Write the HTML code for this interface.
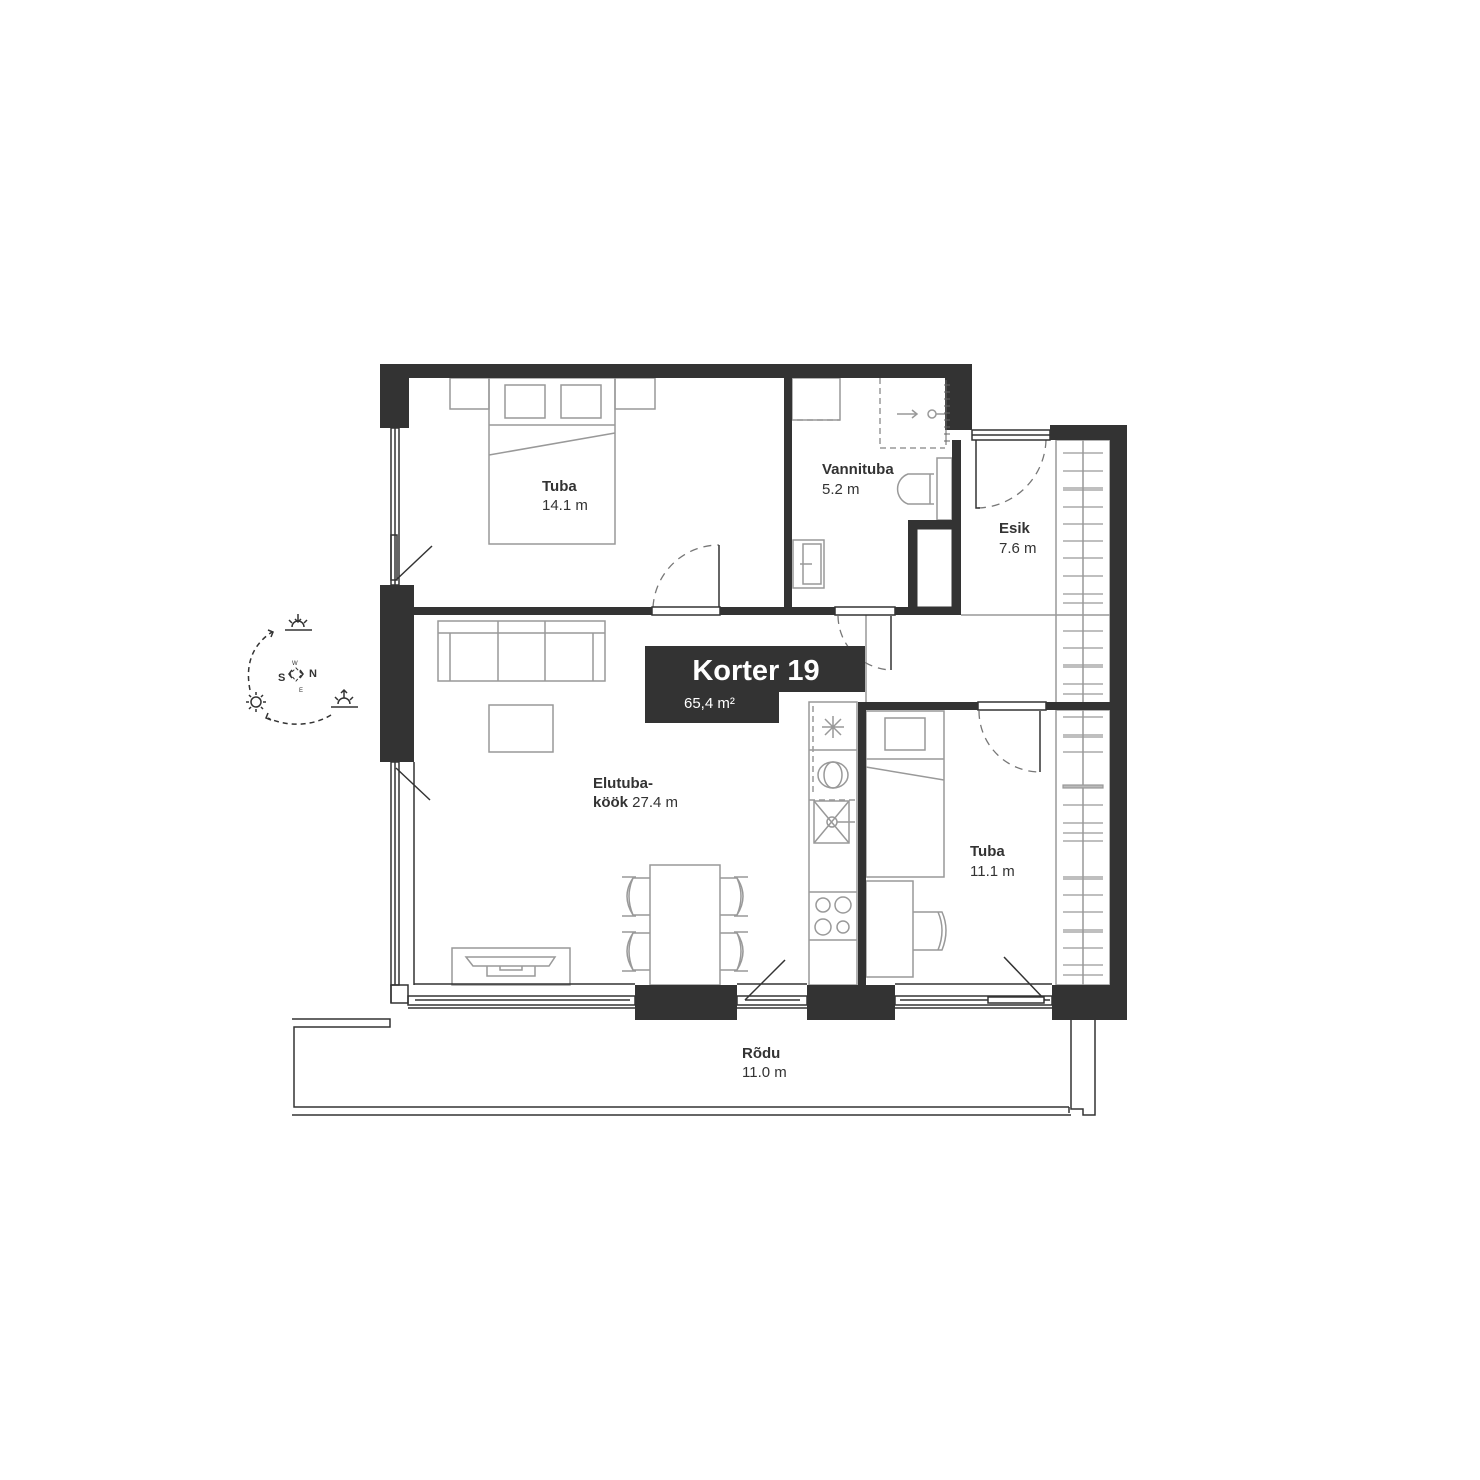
<!DOCTYPE html>
<html><head><meta charset="utf-8"><style>
html,body{margin:0;padding:0;background:#fff;}
svg{display:block;}
text{font-family:"Liberation Sans",sans-serif;fill:#333;}
</style></head><body>
<svg width="1480" height="1480" viewBox="0 0 1480 1480" xmlns="http://www.w3.org/2000/svg">
<rect width="1480" height="1480" fill="#fff"/>

<!-- Furniture (grey) -->
<g fill="none" stroke="#999" stroke-width="1.5">
  <!-- bedroom 1 -->
  <rect x="450" y="378" width="39" height="31"/>
  <rect x="615" y="378" width="40" height="31"/>
  <rect x="489" y="378" width="126" height="166"/>
  <line x1="489" y1="425" x2="615" y2="425"/>
  <rect x="505" y="385" width="40" height="33"/>
  <rect x="561" y="385" width="40" height="33"/>
  <line x1="489" y1="455" x2="615" y2="433"/>
  <!-- bathroom -->
  <rect x="792" y="378" width="48" height="42"/>
  <path d="M880 378 V448 H945" stroke-dasharray="6 4"/>
  <path d="M797 420 H840" stroke-dasharray="6 4"/>
  <path d="M897 414 H916 M912 410 L917 414 L912 418"/>
  <circle cx="932" cy="414" r="4"/>
  <line x1="936" y1="414" x2="945" y2="414"/>
  <rect x="937" y="458" width="15" height="62"/>
  <path d="M934 474 H908 A16 16 0 0 0 908 504 H934"/>
  <line x1="930" y1="474" x2="930" y2="504"/>
  <rect x="793" y="540" width="31" height="48"/>
  <rect x="803" y="544" width="18" height="40"/>
  <line x1="800" y1="564" x2="812" y2="564"/>
  <!-- living -->
  <rect x="438" y="621" width="167" height="60"/>
  <line x1="438" y1="633" x2="605" y2="633"/>
  <line x1="450" y1="633" x2="450" y2="681"/>
  <line x1="593" y1="633" x2="593" y2="681"/>
  <line x1="498" y1="621" x2="498" y2="681"/>
  <line x1="545" y1="621" x2="545" y2="681"/>
  <rect x="489" y="705" width="64" height="47"/>
  <rect x="650" y="865" width="70" height="120"/>
  <rect x="452" y="948" width="118" height="37"/>
  <path d="M466 957 H555 L549 966 H473 Z"/>
  <path d="M487 966 V976 H535 V966 M500 966 V970 H522 V966"/>
  <!-- chairs -->
  <g id="ch">
    <path d="M650 878 H633 Q621 896 633 915 H650"/>
    <path d="M633 878 Q625 896 633 915"/>
    <line x1="622" y1="877" x2="636" y2="877"/><line x1="622" y1="916" x2="636" y2="916"/>
  </g>
  <path d="M650 933 H633 Q621 951 633 970 H650"/>
  <path d="M633 933 Q625 951 633 970"/>
  <line x1="622" y1="932" x2="636" y2="932"/><line x1="622" y1="971" x2="636" y2="971"/>
  <path d="M720 878 H737 Q749 896 737 915 H720"/>
  <path d="M737 878 Q745 896 737 915"/>
  <line x1="734" y1="877" x2="748" y2="877"/><line x1="734" y1="916" x2="748" y2="916"/>
  <path d="M720 933 H737 Q749 951 737 970 H720"/>
  <path d="M737 933 Q745 951 737 970"/>
  <line x1="734" y1="932" x2="748" y2="932"/><line x1="734" y1="971" x2="748" y2="971"/>
  <!-- kitchen -->
  <rect x="809" y="702" width="48" height="283"/>
  <line x1="809" y1="750" x2="857" y2="750"/>
  <path d="M809 800 H857" stroke-dasharray="6 4"/>
  <path d="M813 706 V796" stroke-dasharray="6 4"/>
  <path d="M833 716 V738 M822 727 H844 M825 719 L841 735 M841 719 L825 735"/>
  <ellipse cx="833" cy="775" rx="15" ry="13"/>
  <ellipse cx="833" cy="775" rx="9" ry="13"/>
  <rect x="814" y="801" width="35" height="42"/>
  <path d="M814 801 L849 843 M849 801 L814 843"/>
  <circle cx="832" cy="822" r="5"/>
  <line x1="837" y1="822" x2="855" y2="822"/>
  <line x1="809" y1="892" x2="857" y2="892"/>
  <line x1="809" y1="940" x2="857" y2="940"/>
  <circle cx="823" cy="905" r="7"/><circle cx="843" cy="905" r="8"/>
  <circle cx="823" cy="927" r="8"/><circle cx="843" cy="927" r="6"/>
  <!-- bedroom 2 -->
  <rect x="866" y="711" width="78" height="166"/>
  <rect x="885" y="718" width="40" height="32"/>
  <line x1="866" y1="759" x2="944" y2="759"/>
  <line x1="866" y1="767" x2="944" y2="780"/>
  <rect x="866" y="881" width="47" height="96"/>
  <path d="M913 912 H942 Q950 930 942 950 H913"/>
  <path d="M938 912 Q946 930 938 950"/>
  <!-- wardrobe -->
  <rect x="1056" y="440" width="54" height="545"/>
  <line x1="1083" y1="440" x2="1083" y2="985"/>
  <line x1="1056" y1="615" x2="1110" y2="615"/>
  <line x1="1056" y1="710" x2="1110" y2="710"/>
  <!-- hall lines -->
  <line x1="961" y1="615" x2="1056" y2="615"/>
  <line x1="866" y1="615" x2="866" y2="702"/>
</g>
<!-- wardrobe hangers -->
<g stroke="#999" stroke-width="1.2">
  <path d="M1063 453H1103M1063 471H1103M1063 488H1103M1063 490H1103M1063 507H1103M1063 524H1103M1063 541H1103M1063 558H1103M1063 576H1103M1063 594H1103M1063 603H1103M1063 631H1103M1063 648H1103M1063 665H1103M1063 667H1103M1063 684H1103M1063 694H1103"/>
  <path d="M1063 717H1103M1063 735H1103M1063 737H1103M1063 752H1103M1063 787H1103M1063 805H1103M1063 823H1103M1063 833H1103M1063 841H1103M1063 877H1103M1063 879H1103M1063 895H1103M1063 912H1103M1063 930H1103M1063 932H1103M1063 948H1103M1063 965H1103M1063 975H1103"/>
  <rect x="1063" y="785" width="40" height="3" fill="#bbb"/>
</g>

<!-- doors -->
<g fill="none" stroke="#777" stroke-width="1.3">
  <path d="M653 607 A66 66 0 0 1 719 545" stroke-dasharray="8 6"/>
  <path d="M838 616 A55 55 0 0 0 891 670" stroke-dasharray="8 6"/>
  <path d="M1046 440 A70 70 0 0 1 976 508" stroke-dasharray="8 6"/>
  <path d="M979 711 A61 61 0 0 0 1040 772" stroke-dasharray="8 6"/>
</g>
<g stroke="#333" stroke-width="1.5" fill="none">
  <line x1="719" y1="545" x2="719" y2="607"/>
  <line x1="891" y1="616" x2="891" y2="670"/>
  <path d="M976 440 V508 H980"/>
  <line x1="1040" y1="711" x2="1040" y2="772"/>
  <line x1="396" y1="580" x2="432" y2="546"/>
  <line x1="396" y1="768" x2="430" y2="800"/>
  <line x1="745" y1="1000" x2="785" y2="960"/>
  <line x1="1045" y1="1000" x2="1004" y2="957"/>
</g>

<!-- interior thin outlines -->
<g stroke="#333" stroke-width="1.5" fill="none">
  <line x1="414" y1="762" x2="414" y2="985"/>
  <line x1="414" y1="984" x2="635" y2="984"/>
  <line x1="737" y1="984" x2="807" y2="984"/>
  <line x1="895" y1="984" x2="1052" y2="984"/>
  <!-- windows left -->
  <rect x="391" y="428" width="8" height="157"/>
  <line x1="395" y1="428" x2="395" y2="585"/>
  <rect x="391" y="535" width="6" height="45"/>
  <rect x="391" y="762" width="8" height="223"/>
  <line x1="395" y1="762" x2="395" y2="985"/>
  <path d="M391 985 H408 V1003 H391 Z"/>
  <path d="M391 1003 V985"/>
  <!-- bottom windows -->
  <rect x="408" y="996" width="227" height="9"/>
  <line x1="415" y1="1000" x2="630" y2="1000"/>
  <rect x="737" y="996" width="70" height="9"/>
  <line x1="745" y1="1000" x2="800" y2="1000"/>
  <rect x="895" y="996" width="157" height="9"/>
  <line x1="900" y1="1000" x2="1050" y2="1000"/>
  <rect x="988" y="997" width="56" height="6" fill="#fff"/>
  <line x1="408" y1="1008" x2="635" y2="1008"/>
  <line x1="737" y1="1008" x2="807" y2="1008"/>
  <line x1="895" y1="1008" x2="1052" y2="1008"/>
  <!-- top window esik -->
  <rect x="972" y="430" width="78" height="10"/>
  <line x1="972" y1="435" x2="1050" y2="435"/>
  <!-- door thresholds -->
  <rect x="652" y="607" width="68" height="8" fill="#fff"/>
  <rect x="835" y="607" width="60" height="8" fill="#fff"/>
  <rect x="978" y="702" width="68" height="8" fill="#fff"/>
  <!-- balcony -->
  <path d="M292 1019 H390 V1027 H294 V1107 H1069"/>
  <line x1="292" y1="1115" x2="1071" y2="1115"/>
  <path d="M1071 1020 V1109 H1083 V1115 H1095 V1020"/>
  <line x1="1069" y1="1107" x2="1069" y2="1113"/>
</g>

<!-- walls (dark) -->
<g fill="#333">
  <rect x="380" y="364" width="592" height="14"/>
  <rect x="380" y="364" width="29" height="64"/>
  <rect x="945" y="364" width="27" height="66"/>
  <rect x="380" y="585" width="34" height="177"/>
  <rect x="409" y="607" width="243" height="8"/>
  <rect x="720" y="607" width="115" height="8"/>
  <rect x="895" y="607" width="66" height="8"/>
  <rect x="784" y="378" width="8" height="229"/>
  <rect x="908" y="520" width="53" height="9"/>
  <rect x="908" y="520" width="9" height="95"/>
  <rect x="952" y="440" width="9" height="175"/>
  <rect x="1050" y="425" width="77" height="15"/>
  <rect x="1110" y="425" width="17" height="595"/>
  <rect x="858" y="702" width="120" height="8"/>
  <rect x="1046" y="702" width="10" height="8"/>
  <rect x="1056" y="702" width="54" height="8" fill="#333"/>
  <rect x="858" y="702" width="8" height="283"/>
  <rect x="635" y="985" width="102" height="35"/>
  <rect x="807" y="985" width="88" height="35"/>
  <rect x="1052" y="985" width="75" height="35"/>
</g>
<rect x="917" y="529" width="35" height="78" fill="#fff" stroke="#333" stroke-width="1"/>
<g stroke="#666" stroke-width="1"><path d="M946 380V445"/><path d="M944 385H950M944 392H950M944 399H950M944 406H950M944 413H950M944 420H950M944 427H950M944 434H950M944 441H950"/></g>

<!-- Korter label -->
<rect x="645" y="646" width="220" height="46" fill="#333"/>
<rect x="645" y="692" width="134" height="31" fill="#333"/>
<text x="756" y="680" text-anchor="middle" font-size="29" font-weight="bold" style="fill:#fff">Korter 19</text>
<text x="684" y="708" font-size="15" style="fill:#fff">65,4 m²</text>

<!-- Room labels -->
<g font-size="15">
  <text x="542" y="491" font-weight="bold">Tuba</text>
  <text x="542" y="510">14.1 m</text>
  <text x="822" y="474" font-weight="bold">Vannituba</text>
  <text x="822" y="494">5.2 m</text>
  <text x="999" y="533" font-weight="bold">Esik</text>
  <text x="999" y="553">7.6 m</text>
  <text x="593" y="788" font-weight="bold">Elutuba-</text>
  <text x="593" y="807"><tspan font-weight="bold">köök</tspan> 27.4 m</text>
  <text x="970" y="856" font-weight="bold">Tuba</text>
  <text x="970" y="876">11.1 m</text>
  <text x="742" y="1058" font-weight="bold">Rõdu</text>
  <text x="742" y="1077">11.0 m</text>
</g>

<!-- Compass -->
<g fill="none" stroke="#333" stroke-width="1.5">
  <path d="M250 690 C245 665 252 645 272 632" stroke-dasharray="5 4"/>
  <path d="M268 630 L273 632 L271 637"/>
  <path d="M331 715 C315 725 290 728 268 718" stroke-dasharray="5 4"/>
  <path d="M268 713 L266 718 L271 720"/>
  <line x1="285" y1="630" x2="312" y2="630"/>
  <path d="M292 627 A6 6 0 0 1 304 627"/>
  <path d="M298 614 V622 M295 619 L298 622 L301 619 M289 620 L292 623 M307 620 L304 623"/>
  <line x1="331" y1="707" x2="358" y2="707"/>
  <path d="M338 704 A6 6 0 0 1 350 704"/>
  <path d="M344 690 V698 M341 693 L344 690 L347 693 M335 697 L338 700 M353 697 L350 700"/>
  <circle cx="256" cy="702" r="5"/>
  <path d="M256 692V695M256 709V712M246 702H249M263 702H266M249 695L251 697M263 695L261 697M249 709L251 707M263 709L261 707"/>
  <path d="M296 668 L302 674 L296 681 L290 674 Z" stroke-dasharray="3 2" stroke-width="1"/>
  <path d="M292 670 L289 674 L292 678 M300 670 L303 674 L300 678"/>
</g>
<text x="278" y="681" font-size="11" font-weight="bold">S</text>
<text x="309" y="677" font-size="11" font-weight="bold">N</text>
<text x="292" y="665" font-size="6">W</text>
<text x="299" y="692" font-size="6">E</text>
</svg>
</body></html>
